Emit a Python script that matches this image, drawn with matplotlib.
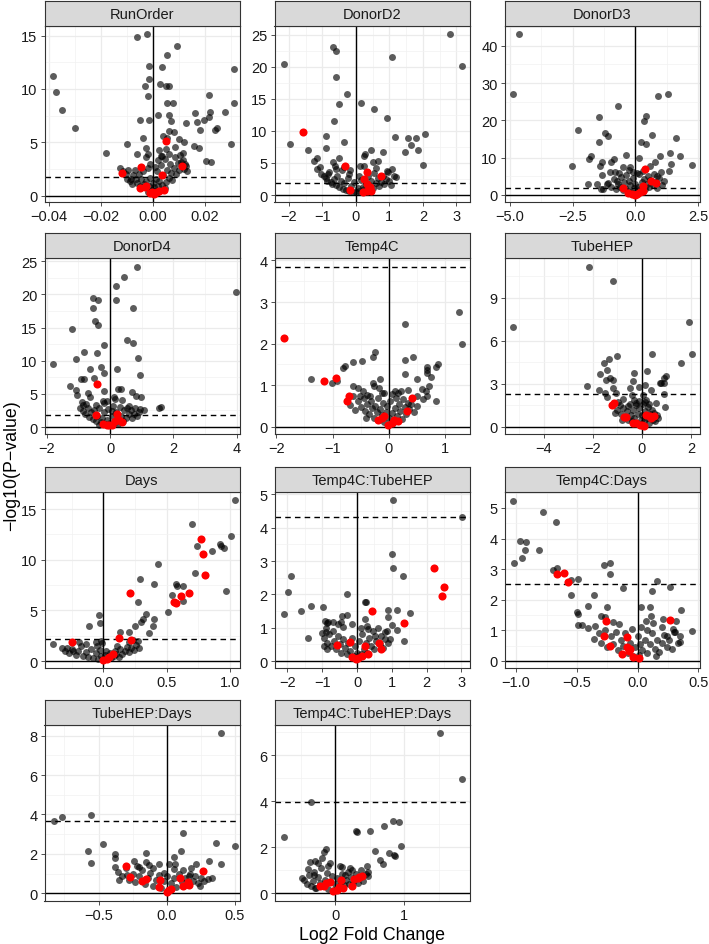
import matplotlib
matplotlib.use("Agg")
import matplotlib.pyplot as plt

plt.rcParams["font.family"] = ["Liberation Sans", "DejaVu Sans"]

# ---- data: (log2 fold change, -log10 p) per facet ----
runorder_grey = [
    (-0.0384, 11.25), (-0.0374, 9.72), (-0.0348, 8.03), (-0.0299, 6.38), (-0.0179, 4.03), (-0.0101, 4.81),
    (-0.0063, 14.84), (-0.0023, 15.16), (-0.0017, 12.19), (-0.0014, 10.9), (-0.003, 10.25), (-0.002, 9.34),
    (-0.0048, 7.1), (-0.0017, 7.1), (-0.0039, 5.4), (-0.006, 3.9), (-0.0026, 4.47), (-0.002, 3.94),
    (0.0034, 12.1), (0.0056, 13.2), (0.0091, 14.06), (0.0027, 10.5), (0.0052, 10.25), (0.006, 10.25),
    (0.0056, 8.7), (0.0078, 8.7), (0.0021, 7.56), (0.0061, 7.53), (0.0069, 7.0), (0.006, 6.1),
    (0.0082, 5.94), (0.0038, 5.63), (0.0056, 5.38), (0.0101, 5.3), (0.0118, 5.0), (0.0085, 4.53),
    (0.0127, 6.81), (0.0163, 7.72), (0.017, 6.94), (0.018, 6.19), (0.0197, 7.13), (0.0216, 9.43),
    (0.022, 7.88), (0.0216, 7.41), (0.0237, 6.16), (0.0246, 6.34), (0.0278, 7.88), (0.0313, 11.9),
    (0.0313, 8.69), (0.0302, 4.84), (0.0157, 4.69), (0.0177, 4.47), (0.0204, 3.28), (0.0222, 3.13),
    (0.0117, 4.0), (0.0049, 4.38), (0.003, 3.75), (0.0107, 3.13), (0.0127, 2.81),
    (-0.0125, 2.55), (-0.0115, 2.3), (-0.0105, 2.0), (-0.010, 1.6), (-0.009, 1.35), (-0.008, 1.1),
    (-0.0075, 1.9), (-0.007, 2.4), (-0.0065, 1.55), (-0.006, 1.2), (-0.0055, 2.0), (-0.005, 0.95),
    (-0.0045, 1.6), (-0.004, 2.3), (-0.0035, 1.1), (-0.003, 0.8), (-0.0025, 1.4), (-0.002, 2.6),
    (-0.0015, 0.9), (-0.001, 1.7), (-0.0005, 0.5), (0.0, 1.2), (0.0005, 0.8), (0.001, 1.6),
    (0.0015, 2.3), (0.002, 0.9), (0.0025, 1.4), (0.003, 2.9), (0.0035, 1.0), (0.004, 1.9),
    (0.0045, 3.4), (0.005, 1.3), (0.0055, 2.4), (0.006, 1.7), (0.0065, 3.0), (0.007, 2.1),
    (0.0075, 1.5), (0.008, 2.6), (0.0085, 3.6), (0.009, 2.0), (0.0095, 3.1), (0.010, 2.4),
    (0.0105, 3.8), (0.011, 2.9), (0.0115, 3.3), (0.012, 2.5), (0.0125, 3.0), (0.013, 2.3),
    (0.0035, 3.7), (0.0025, 4.3), (-0.001, 3.0), (-0.0025, 3.6), (0.002, 3.3), (0.006, 3.9),
    (0.0008, 2.7), (-0.0085, 1.6), (-0.0095, 2.4), (0.0012, 0.4), (-0.0018, 0.35), (0.0045, 0.7),
]
runorder_red = [
    (-0.0119, 2.13), (-0.0045, 2.66), (0.0049, 5.16), (0.0036, 1.97), (0.011, 2.75), (-0.0048, 0.72),
    (-0.0026, 0.94), (-0.0003, 0.31), (-0.0012, 0.22), (0.0014, 0.38), (0.0043, 0.53), (0.0004, 0.16),
    (0.0023, 0.47), (-0.0032, 0.78),
]

donord2_grey = [
    (-2.15, 20.5), (-1.97, 7.96), (-1.43, 7.07), (-1.24, 5.25), (-1.15, 5.72), (-1.06, 4.32), (-0.88, 9.26),
    (-0.88, 7.38), (-0.68, 23.1), (-0.58, 22.5), (-0.58, 18.46), (-0.50, 14.2), (-0.65, 11.5), (-0.37, 8.2),
    (-0.50, 5.77), (-0.68, 5.1), (-0.83, 3.28), (-0.26, 15.76), (0.14, 14.35), (0.53, 13.47), (1.07, 21.5),
    (0.94, 12.0), (1.16, 9.1), (0.23, 6.14), (0.28, 6.4), (0.46, 7.07), (0.81, 6.66), (0.67, 5.36),
    (0.52, 5.1), (0.13, 4.58), (0.92, 3.8), (1.07, 4.06), (1.19, 2.76), (1.54, 8.84), (1.64, 7.8),
    (1.78, 8.84), (1.86, 7.07), (1.45, 6.76), (2.06, 9.52), (1.99, 4.68), (2.80, 25.1), (3.18, 20.1),
    (-0.17, 3.85), (-0.61, 4.58), (-0.42, 3.95),
    (-1.05, 3.3), (-0.95, 3.0), (-0.9, 2.6), (-0.85, 2.2), (-0.8, 3.6), (-0.75, 2.0), (-0.7, 1.7),
    (-0.65, 2.5), (-0.6, 1.5), (-0.55, 3.0), (-0.5, 1.2), (-0.45, 2.2), (-0.4, 1.0), (-0.35, 1.8),
    (-0.3, 0.8), (-0.25, 2.6), (-0.2, 0.6), (-0.15, 1.4), (-0.1, 0.5), (-0.05, 2.0), (0.0, 0.4),
    (0.05, 1.1), (0.1, 0.6), (0.15, 2.3), (0.2, 1.3), (0.25, 0.9), (0.3, 1.8), (0.35, 2.9), (0.4, 1.5),
    (0.45, 2.2), (0.5, 1.1), (0.55, 3.4), (0.6, 1.8), (0.65, 2.6), (0.7, 1.4), (0.75, 2.1), (0.8, 3.0),
    (0.85, 1.7), (0.9, 2.5), (0.95, 3.6), (1.0, 2.2), (1.05, 1.6), (1.15, 2.9), (-1.15, 4.0), (-0.2, 3.3),
    (0.1, 3.0), (-0.6, 4.1), (0.6, 4.2), (-0.35, 4.3), (0.25, 4.6),
]
donord2_red = [
    (-1.57, 9.83), (-0.34, 4.58), (0.33, 3.54), (0.74, 3.02), (0.23, 2.5), (0.33, 1.72), (-0.17, 0.78),
    (0.21, 0.42), (0.43, 1.2), (0.33, 0.68), (0.46, 0.68),
]

donord3_grey = [
    (-4.64, 43.1), (-4.86, 27.2), (-2.51, 7.86), (-2.30, 17.5), (-1.90, 2.95), (-1.86, 9.64), (-1.77, 10.5),
    (-1.45, 20.8), (-1.45, 14.3), (-1.20, 16.6), (-1.10, 15.9), (-1.40, 7.86), (-1.31, 8.9), (-1.00, 6.07),
    (-0.83, 9.64), (-0.95, 8.9), (-0.67, 23.9), (-0.37, 10.8), (-0.50, 7.4), (-0.81, 6.07), (-1.31, 5.36),
    (-1.53, 2.95), (-1.36, 1.6), (-1.14, 2.95), (-0.74, 3.84), (0.91, 26.6), (1.32, 27.2), (0.42, 21.25),
    (0.34, 19.9), (0.66, 16.1), (0.22, 14.1), (0.42, 13.7), (0.16, 9.8), (0.98, 10.5), (1.39, 11.2),
    (1.43, 8.3), (1.64, 15.4), (1.77, 10.5), (2.26, 8.0), (1.35, 6.5), (1.04, 6.07), (0.78, 8.9),
    (0.58, 7.86), (0.85, 5.18), (-0.21, 7.4), (-0.08, 6.07),
    (-1.1, 3.2), (-0.95, 2.2), (-0.85, 4.2), (-0.75, 1.6), (-0.7, 3.0), (-0.6, 2.2), (-0.55, 4.8),
    (-0.5, 1.4), (-0.45, 3.4), (-0.4, 2.0), (-0.35, 5.4), (-0.3, 1.2), (-0.25, 3.8), (-0.2, 2.6),
    (-0.15, 0.9), (-0.1, 4.6), (-0.05, 1.8), (0.0, 3.0), (0.05, 0.9), (0.1, 2.2), (0.15, 5.6), (0.2, 1.5),
    (0.25, 3.6), (0.3, 2.4), (0.35, 4.4), (0.4, 1.6), (0.45, 3.0), (0.5, 5.0), (0.55, 2.2), (0.6, 4.0),
    (0.7, 2.8), (0.75, 5.6), (0.8, 3.4), (0.85, 1.9), (0.95, 4.6), (1.05, 2.6), (1.15, 3.8), (-1.3, 1.6),
    (-0.65, 5.8), (0.3, 6.4), (0.05, 6.0), (-0.25, 6.6),
]
donord3_red = [
    (0.38, 6.96), (-0.50, 1.96), (0.62, 3.84), (0.82, 3.2), (0.29, 2.5), (-0.29, 0.54), (-0.11, 0.27),
    (0.08, 0.36), (0.18, 0.9), (-0.01, 0.0), (0.32, 1.16),
]

donord4_grey = [
    (-1.81, 9.55), (-1.20, 14.85), (-1.07, 10.2), (-1.28, 6.2), (-1.09, 5.6), (-1.04, 4.85), (-0.91, 7.2),
    (-0.83, 7.2), (-0.83, 11.35), (-0.64, 8.7), (-0.70, 5.1), (-0.90, 3.85), (-0.85, 3.35), (-0.55, 19.5),
    (-0.37, 19.2), (-0.53, 17.95), (-0.49, 16.0), (-0.37, 15.35), (-0.20, 12.45), (-0.40, 11.2),
    (-0.30, 9.0), (-0.20, 8.1), (-0.50, 7.35), (-0.20, 5.5), (-0.23, 4.0), (0.19, 21.3), (0.43, 22.65),
    (0.84, 24.1), (0.18, 19.2), (0.72, 17.95), (0.53, 13.1), (0.74, 12.7), (0.87, 10.35), (0.94, 7.85),
    (0.21, 8.75), (0.24, 5.7), (0.34, 5.75), (0.69, 5.35), (0.81, 4.65), (0.97, 4.5), (0.96, 2.7),
    (1.06, 2.6), (1.54, 2.85), (1.60, 3.05), (3.99, 20.3), (0.11, 4.6), (0.37, 4.1), (0.59, 3.2),
    (-0.64, 4.6), (-0.43, 3.35),
    (-0.95, 2.9), (-0.85, 2.4), (-0.8, 1.9), (-0.7, 2.8), (-0.65, 1.5), (-0.6, 2.2), (-0.55, 1.2),
    (-0.5, 2.6), (-0.45, 0.9), (-0.4, 1.7), (-0.35, 2.9), (-0.3, 0.7), (-0.25, 1.4), (-0.2, 2.2),
    (-0.15, 0.5), (-0.1, 1.1), (-0.05, 2.7), (0.0, 0.6), (0.05, 1.6), (0.1, 3.2), (0.15, 0.8), (0.2, 2.3),
    (0.25, 1.2), (0.3, 3.0), (0.35, 1.7), (0.4, 0.9), (0.45, 2.5), (0.5, 1.4), (0.55, 2.9), (0.6, 1.9),
    (0.65, 2.6), (0.7, 1.3), (0.75, 2.0), (0.8, 2.8), (0.85, 1.6), (0.9, 2.2), (-0.75, 3.5), (-0.2, 3.6),
    (0.15, 4.2), (-0.1, 3.9), (0.05, 2.4), (-0.35, 0.3), (0.25, 0.4),
]
donord4_red = [
    (-0.41, 6.5), (-0.45, 1.85), (0.23, 1.95), (-0.21, 0.45), (-0.03, 0.25), (0.05, 0.35), (0.16, 0.85),
    (0.37, 0.7), (-0.11, 0.35), (0.27, 1.1),
]

temp4c_grey = [
    (-1.38, 1.15), (-1.01, 1.05), (-0.92, 1.11), (-0.82, 1.41), (-0.78, 1.46), (-0.63, 1.56), (-0.48, 1.58),
    (-0.29, 1.68), (-0.24, 1.79), (-0.64, 0.97), (-0.55, 0.94), (-0.29, 1.06), (-0.26, 0.97), (-0.15, 1.16),
    (-0.18, 0.94), (-0.69, 0.53), (-0.64, 0.73), (-0.51, 0.74), (-0.46, 0.85), (-0.39, 0.77), (-0.34, 0.73),
    (-0.13, 0.81), (0.28, 2.46), (0.29, 1.6), (0.42, 1.68), (0.28, 1.27), (0.49, 1.14), (0.68, 1.43),
    (0.67, 1.37), (0.67, 1.29), (0.74, 1.19), (0.83, 1.43), (0.87, 1.51), (0.84, 0.61), (0.59, 0.90),
    (0.66, 0.86), (0.71, 0.98), (0.68, 0.74), (0.61, 0.66), (1.25, 2.75), (1.30, 2.0), (0.11, 0.85),
    (0.21, 0.85), (0.34, 0.89), (0.49, 0.73),
    (-0.55, 0.62), (-0.5, 0.48), (-0.45, 0.7), (-0.42, 0.38), (-0.38, 0.55), (-0.35, 0.3), (-0.32, 0.62),
    (-0.3, 0.45), (-0.27, 0.22), (-0.25, 0.5), (-0.22, 0.35), (-0.2, 0.68), (-0.18, 0.15), (-0.15, 0.42),
    (-0.12, 0.28), (-0.1, 0.58), (-0.08, 0.12), (-0.05, 0.36), (-0.03, 0.5), (0.0, 0.2), (0.02, 0.62),
    (0.05, 0.32), (0.08, 0.1), (0.1, 0.45), (0.12, 0.7), (0.15, 0.25), (0.18, 0.55), (0.2, 0.38),
    (0.23, 0.18), (0.25, 0.66), (0.28, 0.48), (0.3, 0.3), (0.33, 0.58), (0.36, 0.42), (0.4, 0.55),
    (0.45, 0.35), (0.5, 0.5), (-0.6, 0.4), (0.05, 0.78), (-0.08, 0.8), (0.16, 0.82), (-0.4, 0.2),
]
temp4c_red = [
    (-1.86, 2.14), (-1.15, 1.11), (-0.93, 1.17), (-0.71, 0.75), (-0.74, 0.63), (0.41, 0.69), (0.32, 0.39),
    (-0.09, 0.27), (-0.20, 0.17), (-0.01, 0.05), (0.05, 0.10), (0.16, 0.14), (0.09, 0.17), (-0.13, 0.21),
]

tubehep_grey = [
    (-5.26, 6.96), (-2.14, 11.13), (-1.19, 10.15), (-2.24, 2.87), (-1.70, 3.72), (-1.73, 2.57), (-1.53, 4.42),
    (-1.32, 4.70), (-1.0, 4.97), (-1.43, 3.96), (-1.46, 3.26), (-1.30, 3.42), (-1.16, 3.26), (-1.19, 2.73),
    (-1.03, 2.34), (-1.50, 2.34), (-1.41, 2.10), (-0.96, 1.76), (-0.76, 1.92), (-0.55, 1.46), (-1.09, 0.95),
    (-0.30, 3.77), (-0.35, 3.22), (-0.49, 2.73), (-0.38, 2.22), (-0.11, 2.80), (0.22, 3.91), (0.42, 5.09),
    (0.12, 2.91), (0.36, 2.57), (0.03, 2.22), (0.78, 3.03), (0.92, 3.42), (1.0, 3.54), (0.91, 3.08),
    (0.73, 3.03), (0.92, 2.29), (0.93, 1.41), (1.61, 4.46), (1.92, 7.33), (2.04, 5.09), (0.19, 1.87),
    (0.59, 1.64), (-0.22, 1.64),
    (-1.0, 1.2), (-0.9, 1.5), (-0.85, 0.9), (-0.75, 1.3), (-0.7, 0.7), (-0.6, 1.1), (-0.55, 0.5),
    (-0.5, 1.6), (-0.45, 0.8), (-0.4, 0.4), (-0.35, 1.2), (-0.3, 0.6), (-0.25, 1.5), (-0.2, 0.3),
    (-0.15, 0.9), (-0.1, 1.3), (-0.05, 0.5), (0.0, 0.8), (0.05, 1.6), (0.1, 0.4), (0.15, 1.1), (0.2, 0.6),
    (0.25, 1.4), (0.3, 0.3), (0.35, 0.9), (0.4, 1.2), (0.45, 0.5), (0.5, 1.0), (0.55, 0.4), (0.6, 0.8),
    (0.65, 0.6), (-0.8, 0.5), (-0.1, 1.8), (0.15, 1.7), (0.3, 1.6), (-0.3, 1.9), (0.0, 0.2),
]
tubehep_red = [
    (-1.14, 1.69), (-1.23, 1.53), (-0.65, 0.67), (-0.73, 0.72), (-0.35, 0.30), (-0.22, 0.25), (-0.08, 0.16),
    (0.08, 0.09), (0.16, 0.81), (0.32, 0.76), (0.50, 0.76), (0.39, 0.65), (0.0, 0.14),
]

days_grey = [
    (-0.40, 1.64), (-0.19, 1.91), (-0.29, 1.25), (-0.24, 1.02), (-0.14, 1.68), (-0.11, 3.49), (-0.035, 4.57),
    (-0.027, 3.75), (0.13, 2.89), (0.20, 2.89), (0.25, 3.42), (0.27, 5.79), (0.29, 8.09), (0.30, 3.88),
    (0.31, 4.14), (0.34, 4.64), (0.36, 2.76), (0.39, 3.49), (0.40, 4.14), (0.40, 7.6), (0.43, 9.54),
    (0.51, 4.80), (0.54, 6.51), (0.57, 7.63), (0.58, 7.37), (0.63, 7.37), (0.63, 5.95), (0.70, 13.52),
    (0.72, 8.65), (0.74, 11.32), (0.86, 10.86), (0.92, 11.58), (0.93, 11.38), (0.95, 11.12), (0.97, 6.91),
    (1.01, 12.37), (1.04, 15.86), (0.23, 2.11), (0.27, 2.0), (0.20, 1.84),
    (-0.33, 1.3), (-0.3, 1.0), (-0.27, 0.8), (-0.25, 1.2), (-0.22, 0.6), (-0.2, 1.0), (-0.18, 1.5),
    (-0.16, 0.5), (-0.14, 0.9), (-0.12, 0.4), (-0.1, 1.2), (-0.08, 0.3), (-0.06, 0.8), (-0.05, 1.5),
    (-0.04, 0.2), (-0.03, 1.1), (-0.02, 0.5), (-0.01, 1.8), (0.0, 0.15), (0.01, 0.6), (0.02, 1.0),
    (0.03, 0.3), (0.05, 0.8), (0.06, 0.25), (0.08, 0.5), (0.09, 1.0), (0.1, 0.7), (0.12, 0.4), (0.13, 1.2),
    (0.15, 0.7), (0.17, 1.0), (0.19, 1.4), (0.2, 0.9), (0.22, 1.3), (0.24, 1.1), (0.26, 1.6), (0.28, 1.3),
    (-0.02, 2.0), (-0.06, 1.9), (0.11, 1.5),
]
days_red = [
    (-0.25, 1.91), (0.21, 6.71), (0.125, 2.30), (0.22, 2.04), (0.77, 12.04), (0.79, 10.59), (0.80, 8.52),
    (0.68, 6.71), (0.61, 6.45), (0.57, 5.72), (0.56, 5.86), (0.074, 0.69), (0.048, 0.36), (0.0, 0.07),
    (0.032, 0.2),
]

t4c_tubehep_grey = [
    (-2.10, 1.41), (-1.99, 2.08), (-1.90, 2.55), (-1.62, 1.49), (-1.32, 1.66), (-1.40, 0.68), (-0.99, 1.63),
    (-0.28, 2.0), (-0.90, 0.88), (-0.93, 1.21), (-0.82, 1.16), (-0.70, 1.16), (-0.44, 1.36), (-0.30, 1.38),
    (-0.46, 1.16), (-0.39, 1.01), (-0.96, 0.46), (-0.87, 0.36), (1.03, 4.82), (1.01, 3.22), (1.04, 2.79),
    (1.31, 2.56), (3.02, 4.31), (0.23, 1.76), (0.25, 1.78), (0.90, 1.54), (0.88, 1.33), (1.16, 1.53),
    (1.51, 1.43), (0.99, 1.08), (1.16, 0.93), (1.35, 0.59), (0.80, 0.86), (0.94, 0.66), (0.32, 0.96),
    (0.51, 0.76), (0.23, 1.26),
    (-1.0, 0.85), (-0.95, 0.7), (-0.9, 1.0), (-0.85, 0.55), (-0.8, 0.8), (-0.75, 0.45), (-0.7, 0.9),
    (-0.65, 0.6), (-0.6, 0.35), (-0.55, 0.75), (-0.5, 0.5), (-0.45, 0.25), (-0.4, 0.65), (-0.35, 0.4),
    (-0.3, 0.2), (-0.25, 0.55), (-0.2, 0.3), (-0.15, 0.7), (-0.1, 0.15), (-0.05, 0.45), (0.0, 0.25),
    (0.05, 0.6), (0.1, 0.2), (0.15, 0.8), (0.2, 0.35), (0.25, 0.55), (0.3, 0.25), (0.35, 0.7), (0.4, 0.45),
    (0.45, 0.9), (0.5, 0.35), (0.55, 0.6), (0.6, 1.0), (0.65, 0.5), (0.7, 0.75), (0.75, 0.4), (0.8, 0.65),
    (0.85, 0.9), (0.9, 0.55), (-0.55, 1.1), (0.1, 1.0), (-0.15, 1.1), (0.3, 1.05), (-0.85, 1.15),
]
t4c_tubehep_red = [
    (-0.57, 0.48), (-0.20, 0.58), (0.44, 1.51), (0.22, 0.46), (-0.15, 0.11), (0.04, 0.08), (0.15, 0.14),
    (0.32, 0.21), (0.63, 0.54), (0.68, 0.36), (1.34, 1.14), (2.22, 2.78), (2.49, 2.21), (2.44, 1.96),
    (-0.04, 0.06),
]

t4c_days_grey = [
    (-1.03, 5.24), (-0.78, 4.88), (-0.67, 4.53), (-0.97, 3.93), (-0.92, 3.88), (-0.93, 3.63), (-0.81, 3.63),
    (-1.02, 3.20), (-0.95, 3.36), (-0.70, 2.98), (-0.66, 3.04), (-0.55, 2.65), (-0.49, 2.68), (-0.55, 2.14),
    (-0.50, 1.61), (-0.49, 1.54), (-0.41, 1.81), (-0.36, 2.14), (-0.28, 3.14), (-0.23, 3.20), (-0.23, 2.84),
    (-0.12, 2.39), (-0.25, 1.75), (-0.30, 1.48), (-0.27, 1.43), (-0.49, 1.18), (-0.46, 1.18), (-0.41, 1.07),
    (-0.35, 1.15), (-0.20, 1.26), (-0.36, 0.72), (0.16, 2.60), (0.27, 2.43), (0.12, 2.28), (0.03, 1.75),
    (0.10, 1.75), (0.11, 1.48), (0.07, 1.29), (0.13, 1.24), (0.21, 1.37), (0.32, 1.29), (0.36, 1.68),
    (0.45, 0.99), (0.31, 0.94), (0.35, 0.61), (0.24, 0.83), (0.29, 1.05),
    (-0.32, 0.9), (-0.3, 0.6), (-0.27, 1.0), (-0.25, 0.45), (-0.22, 0.8), (-0.2, 0.55), (-0.18, 0.95),
    (-0.16, 0.35), (-0.14, 0.7), (-0.12, 0.5), (-0.1, 0.9), (-0.08, 0.25), (-0.06, 0.6), (-0.04, 0.15),
    (-0.02, 0.45), (0.0, 0.8), (0.01, 0.2), (0.02, 0.55), (0.03, 1.1), (0.04, 0.35), (0.06, 0.7),
    (0.08, 0.25), (0.1, 0.55), (0.12, 0.9), (0.14, 0.4), (0.16, 0.7), (0.18, 0.3), (0.2, 0.6), (0.22, 0.85),
    (0.24, 0.45), (0.26, 0.7), (0.28, 0.4), (0.3, 0.95), (0.33, 0.6), (0.35, 0.8), (-0.15, 1.2), (0.08, 1.0),
    (0.2, 1.1), (-0.05, 1.05), (0.15, 0.15),
]
t4c_days_red = [
    (-0.66, 2.85), (-0.61, 2.88), (-0.57, 2.59), (-0.26, 1.30), (-0.28, 0.81), (-0.23, 0.50), (-0.085, 0.77),
    (-0.09, 0.47), (-0.06, 0.39), (-0.13, 0.24), (-0.036, 0.12), (0.01, 0.09), (-0.074, 0.34), (0.27, 1.34),
]

tubehep_days_grey = [
    (-0.83, 3.66), (-0.765, 3.88), (-0.555, 3.97), (-0.575, 2.17), (-0.557, 1.53), (-0.47, 2.52), (-0.38, 1.98),
    (-0.38, 1.78), (-0.377, 1.36), (-0.348, 0.69), (-0.24, 1.65), (-0.155, 2.07), (-0.15, 1.61), (-0.13, 1.45),
    (-0.054, 1.51), (-0.20, 1.31), (-0.29, 0.94), (0.116, 3.04), (0.104, 2.15), (0.05, 1.82), (0.062, 1.50),
    (0.017, 1.50), (0.116, 1.16), (0.215, 1.50), (0.306, 1.66), (0.358, 2.54), (0.395, 1.48), (0.333, 0.77),
    (0.397, 8.12), (0.50, 2.40), (0.24, 0.35), (0.165, 0.86), (-0.02, 1.03),
    (-0.36, 1.1), (-0.33, 0.9), (-0.3, 1.3), (-0.28, 0.7), (-0.25, 1.0), (-0.23, 0.55), (-0.2, 0.9),
    (-0.18, 1.2), (-0.16, 0.45), (-0.14, 0.8), (-0.12, 1.05), (-0.1, 0.35), (-0.08, 0.7), (-0.06, 0.95),
    (-0.04, 0.25), (-0.02, 0.6), (0.0, 0.9), (0.01, 0.15), (0.03, 0.5), (0.05, 0.8), (0.07, 0.3), (0.09, 1.0),
    (0.11, 0.55), (0.13, 0.8), (0.15, 0.4), (0.17, 1.0), (0.19, 0.65), (0.21, 0.9), (0.23, 0.5), (0.25, 0.8),
    (0.27, 0.6), (0.3, 0.75), (-0.22, 1.4), (0.05, 1.25), (-0.1, 1.3), (0.18, 1.3),
]
tubehep_days_red = [
    (-0.296, 1.38), (-0.267, 0.81), (-0.18, 0.61), (-0.15, 0.71), (-0.05, 0.66), (-0.057, 0.32), (0.0, 0.05),
    (0.03, 0.24), (0.096, 0.77), (0.116, 0.39), (0.153, 0.55), (0.165, 0.44), (0.264, 1.11), (0.017, 0.15),
]

t4c_tubehep_days_grey = [
    (-0.746, 2.43), (-0.345, 3.97), (1.517, 6.95), (1.833, 4.98), (0.30, 2.72), (0.31, 2.68), (0.51, 2.71),
    (0.71, 2.92), (0.84, 3.14), (0.92, 3.09), (0.957, 2.07), (0.574, 1.84), (0.775, 1.77), (0.85, 1.67),
    (0.86, 1.64), (0.646, 1.45), (0.684, 1.29), (-0.134, 1.93), (-0.167, 1.78), (-0.19, 1.53), (-0.36, 1.38),
    (-0.29, 1.41), (-0.39, 1.06), (-0.48, 0.66), (-0.31, 0.81), (-0.07, 1.31), (0.072, 1.17), (0.215, 1.09),
    (0.455, 1.21), (0.478, 0.95), (0.373, 1.02), (-0.287, 0.23), (0.144, 0.81),
    (-0.45, 0.6), (-0.4, 0.4), (-0.38, 0.8), (-0.35, 0.3), (-0.32, 0.55), (-0.3, 0.95), (-0.28, 0.25),
    (-0.25, 0.7), (-0.22, 0.45), (-0.2, 1.1), (-0.18, 0.3), (-0.15, 0.6), (-0.12, 0.9), (-0.1, 0.2),
    (-0.08, 0.5), (-0.05, 0.75), (-0.02, 0.15), (0.0, 0.4), (0.03, 0.65), (0.05, 0.25), (0.08, 0.5),
    (0.1, 0.85), (0.13, 0.35), (0.15, 0.6), (0.18, 0.95), (0.2, 0.4), (0.23, 0.7), (0.26, 0.5), (0.3, 0.85),
    (0.33, 0.45), (0.36, 0.7), (0.4, 0.55), (0.44, 0.85), (0.48, 0.75), (-0.25, 1.3), (-0.1, 1.2),
    (0.1, 1.15), (0.25, 1.0),
]
t4c_tubehep_days_red = [
    (-0.167, 0.33), (-0.134, 0.43), (-0.081, 0.49), (-0.033, 0.09), (0.024, 0.14), (0.086, 0.59), (0.12, 0.23),
    (0.24, 0.30), (0.273, 0.62), (0.325, 0.69), (0.383, 0.76), (0.344, 0.73), (-0.215, 0.30), (0.057, 0.26),
]

# significance thresholds (dashed lines)
thresholds = [1.78, 1.82, 1.8, 1.8, 3.84, 2.27, 2.17, 4.31, 2.52, 3.66, 3.98]

M = "\u2212"
panels = [
    ("RunOrder", runorder_grey, runorder_red, (-0.0417, 0.0333), (-0.59, 15.9),
     [-0.04, -0.02, 0, 0.02], [M + "0.04", M + "0.02", "0.00", "0.02"], [-0.03, -0.01, 0.01, 0.03],
     [0, 5, 10, 15], [2.5, 7.5, 12.5]),
    ("DonorD2", donord2_grey, donord2_red, (-2.43, 3.39), (-1.09, 26.36),
     [-2, -1, 0, 1, 2, 3], [M + "2", M + "1", "0", "1", "2", "3"], [-1.5, -0.5, 0.5, 1.5, 2.5],
     [0, 5, 10, 15, 20, 25], [2.5, 7.5, 12.5, 17.5, 22.5]),
    ("DonorD3", donord3_grey, donord3_red, (-5.21, 2.56), (-1.88, 45.3),
     [-5, -2.5, 0, 2.5], [M + "5.0", M + "2.5", "0.0", "2.5"], [-3.75, -1.25, 1.25],
     [0, 10, 20, 30, 40], [5, 15, 25, 35, 45]),
    ("DonorD4", donord4_grey, donord4_red, (-2.07, 4.09), (-1.05, 25.5),
     [-2, 0, 2, 4], [M + "2", "0", "2", "4"], [-1, 1, 3],
     [0, 5, 10, 15, 20, 25], [2.5, 7.5, 12.5, 17.5, 22.5]),
    ("Temp4C", temp4c_grey, temp4c_red, (-2.03, 1.43), (-0.175, 4.06),
     [-2, -1, 0, 1], [M + "2", M + "1", "0", "1"], [-1.5, -0.5, 0.5],
     [0, 1, 2, 3, 4], [0.5, 1.5, 2.5, 3.5]),
    ("TubeHEP", tubehep_grey, tubehep_red, (-5.59, 2.35), (-0.5, 11.78),
     [-4, -2, 0, 2], [M + "4", M + "2", "0", "2"], [-5, -3, -1, 1],
     [0, 3, 6, 9], [1.5, 4.5, 7.5, 10.5]),
    ("Days", days_grey, days_red, (-0.465, 1.075), (-0.69, 16.68),
     [0, 0.5, 1.0], ["0.0", "0.5", "1.0"], [-0.25, 0.25, 0.75],
     [0, 5, 10, 15], [2.5, 7.5, 12.5]),
    ("Temp4C:TubeHEP", t4c_tubehep_grey, t4c_tubehep_red, (-2.37, 3.23), (-0.21, 5.07),
     [-2, -1, 0, 1, 2, 3], [M + "2", M + "1", "0", "1", "2", "3"], [-1.5, -0.5, 0.5, 1.5, 2.5],
     [0, 1, 2, 3, 4, 5], [0.5, 1.5, 2.5, 3.5, 4.5]),
    ("Temp4C:Days", t4c_days_grey, t4c_days_red, (-1.096, 0.51), (-0.23, 5.52),
     [-1.0, -0.5, 0, 0.5], [M + "1.0", M + "0.5", "0.0", "0.5"], [-0.75, -0.25, 0.25],
     [0, 1, 2, 3, 4, 5], [0.5, 1.5, 2.5, 3.5, 4.5, 5.5]),
    ("TubeHEP:Days", tubehep_days_grey, tubehep_days_red, (-0.896, 0.533), (-0.39, 8.54),
     [-0.5, 0, 0.5], [M + "0.5", "0.0", "0.5"], [-0.75, -0.25, 0.25],
     [0, 2, 4, 6, 8], [1, 3, 5, 7]),
    ("Temp4C:TubeHEP:Days", t4c_tubehep_days_grey, t4c_tubehep_days_red, (-0.876, 1.94), (-0.33, 7.31),
     [0, 1], ["0", "1"], [-0.5, 0.5, 1.5],
     [0, 2, 4, 6], [1, 3, 5, 7]),
]

W, H = 709, 945
fig = plt.figure(figsize=(W / 100, H / 100), dpi=100)

col_left = [44.5, 274.5, 504.5]
row_top = [27, 259, 493, 726]
pw, ph, sh = 195, 176, 25


def rect(left, top, w, h):
    return [left / W, 1 - (top + h) / H, w / W, h / H]


for i, (name, grey, red, xl, yl, xt, xtl, xm, yt, ym) in enumerate(panels):
    r, c = divmod(i, 3)
    ax = fig.add_axes(rect(col_left[c], row_top[r], pw, ph))
    ax.set_xlim(xl)
    ax.set_ylim(yl)
    ax.set_xticks(xt)
    ax.set_xticklabels(xtl)
    ax.set_yticks(yt)
    ax.set_yticklabels([str(v) for v in yt])
    ax.set_xticks(xm, minor=True)
    ax.set_yticks(ym, minor=True)
    ax.grid(True, which="major", color="#EBEBEB", lw=0.9, zorder=0)
    ax.grid(True, which="minor", color="#F2F2F2", lw=0.5, zorder=0)
    ax.set_axisbelow(True)
    ax.tick_params(which="minor", length=0)
    ax.tick_params(which="major", length=3, width=0.6, color="#333333", labelsize=10.5,
                   labelcolor="#1a1a1a", pad=2)
    for sp in ax.spines.values():
        sp.set_color("#333333")
        sp.set_linewidth(0.8)

    ax.axhline(0, color="black", lw=1.0, zorder=1)
    ax.axvline(0, color="black", lw=1.0, zorder=1)
    ax.axhline(thresholds[i], color="black", lw=1.0, ls=(0, (4, 3)), zorder=1)

    gx = [p[0] for p in grey]
    gy = [p[1] for p in grey]
    ax.scatter(gx, gy, s=25, color="black", alpha=0.64, linewidths=0, zorder=2)
    rx = [p[0] for p in red]
    ry = [p[1] for p in red]
    ax.scatter(rx, ry, s=34, color="#FF0000", linewidths=0, zorder=3)

    # facet strip
    sax = fig.add_axes(rect(col_left[c], row_top[r] - sh, pw, sh))
    sax.set_facecolor("#D9D9D9")
    sax.set_xticks([])
    sax.set_yticks([])
    for sp in sax.spines.values():
        sp.set_color("#333333")
        sp.set_linewidth(0.8)
    sax.text(0.5, 0.47, name, ha="center", va="center", fontsize=10.5, color="#1a1a1a",
             transform=sax.transAxes)

fig.text(372 / W, 1 - 936 / H, "Log2 Fold Change", ha="center", va="center", fontsize=12.8)
fig.text(12 / W, 1 - 466 / H, M + "log10(P" + M + "value)", ha="center", va="center",
         rotation=90, fontsize=12.8)

fig.savefig("out.png", dpi=100)
